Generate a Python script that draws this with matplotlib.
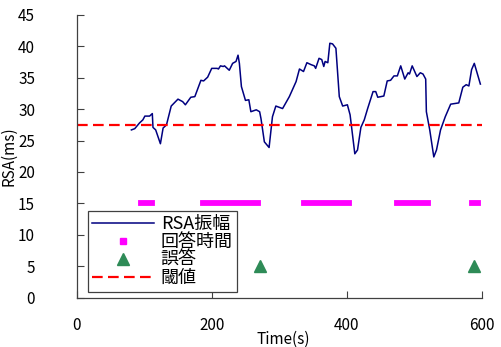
import matplotlib
matplotlib.use("Agg")
import matplotlib.pyplot as plt
from matplotlib.lines import Line2D

plt.rcParams['font.family'] = ['Noto Sans CJK JP', 'DejaVu Sans']

# RSA amplitude trace
time_s = [81, 86, 93, 98, 101, 108, 112, 113, 117, 124, 128, 133, 140, 150, 157, 161,
          169, 175, 184, 188, 194, 200, 208, 210, 213, 217, 219, 226, 231, 236, 239, 241,
          244, 250, 255, 258, 266, 271, 273, 278, 285, 290, 295, 305, 315, 325, 330, 336,
          341, 347, 352, 354, 359, 363, 366, 368, 372, 375, 379, 384, 389, 394, 401, 405,
          412, 416, 421, 426, 431, 439, 443, 446, 455, 460, 465, 470, 475, 480, 486, 491,
          493, 497, 504, 509, 513, 517, 518, 523, 529, 533, 539, 546, 554, 566, 572, 577,
          581, 585, 589, 598]
rsa = [26.7, 26.9, 27.8, 28.3, 28.9, 28.9, 29.3, 27.1, 26.7, 24.5, 27.0, 27.5, 30.5, 31.6, 31.2, 30.7,
       31.9, 32.0, 34.6, 34.5, 35.1, 36.5, 36.5, 36.4, 36.9, 36.8, 36.9, 36.2, 37.3, 37.6, 38.6, 37.3,
       33.6, 31.4, 31.5, 29.6, 29.9, 29.6, 28.5, 24.8, 23.9, 28.8, 30.5, 30.1, 32.0, 34.4, 36.4, 36.0,
       37.4, 37.1, 36.9, 36.5, 38.1, 37.9, 36.8, 37.6, 37.4, 40.5, 40.4, 39.7, 32.0, 30.5, 30.7, 29.1,
       22.9, 23.5, 27.1, 28.3, 30.1, 32.8, 32.8, 31.9, 32.1, 34.5, 34.6, 35.3, 35.3, 36.9, 34.8, 35.8,
       35.6, 36.9, 35.2, 35.8, 35.6, 34.8, 29.6, 26.7, 22.4, 23.5, 26.7, 28.8, 30.8, 31.0, 33.5, 33.9,
       33.7, 36.3, 37.3, 34.0]

# response periods (start, end) at level 15
resp_start = [95, 187, 336, 474, 586]
resp_end = [111, 269, 403, 520, 594]
resp_level = 15

# errors
err_time = [272, 588]
err_level = [5, 5]

threshold = 27.5

fig = plt.figure(figsize=(5.02, 3.47), dpi=100)
ax = fig.add_axes([0.1528, 0.1424, 0.8068, 0.8144])

ax.plot(time_s, rsa, color='#000080', lw=1.1, label='RSA振幅')
for s, e in zip(resp_start, resp_end):
    ax.plot([s, e], [resp_level, resp_level], color='#FF00FF', lw=4.2,
            solid_capstyle='projecting')
ax.plot(err_time, err_level, linestyle='none', marker='^', markersize=8,
        color='#2E8B57', label='誤答')
ax.axhline(threshold, color='#FF0000', lw=1.6, dashes=(4.8, 2.4), label='閾値')

handles = [
    Line2D([], [], color='#000080', lw=1.1),
    Line2D([], [], linestyle='none', marker='s', markersize=5, color='#FF00FF'),
    Line2D([], [], linestyle='none', marker='^', markersize=8, color='#2E8B57'),
    Line2D([], [], color='#FF0000', lw=1.6, dashes=(4.8, 2.4)),
]
labels = ['RSA振幅', '回答時間', '誤答', '閾値']
leg = ax.legend(handles, labels, loc='lower left', bbox_to_anchor=(0.027, 0.021),
                borderaxespad=0, fontsize=13, frameon=True, fancybox=False,
                edgecolor='#404040', framealpha=1, labelspacing=0.0,
                handlelength=3.4, handletextpad=0.4, borderpad=0.25)
leg.get_frame().set_linewidth(0.9)

ax.set_xlim(0, 600)
ax.set_ylim(0, 45)
ax.set_xticks([0, 200, 400, 600])
ax.set_yticks(range(0, 50, 5))
ax.tick_params(direction='in', length=5, width=0.8, labelsize=11, colors='#404040',
               labelcolor='black')
ax.tick_params(axis='y', pad=30)
ax.tick_params(axis='x', pad=14)
for s in ['top', 'right']:
    ax.spines[s].set_visible(False)
for s in ['left', 'bottom']:
    ax.spines[s].set_color('#404040')
    ax.spines[s].set_linewidth(0.9)

ax.set_xlabel('Time(s)', fontsize=11)
ax.set_ylabel('RSA(ms)', fontsize=11)
ax.xaxis.set_label_coords(0.51, -0.148)
ax.xaxis.label.set_va('center')
ax.yaxis.set_label_coords(-0.168, 0.5)
ax.yaxis.label.set_va('center')

fig.savefig('out.png', dpi=100)
